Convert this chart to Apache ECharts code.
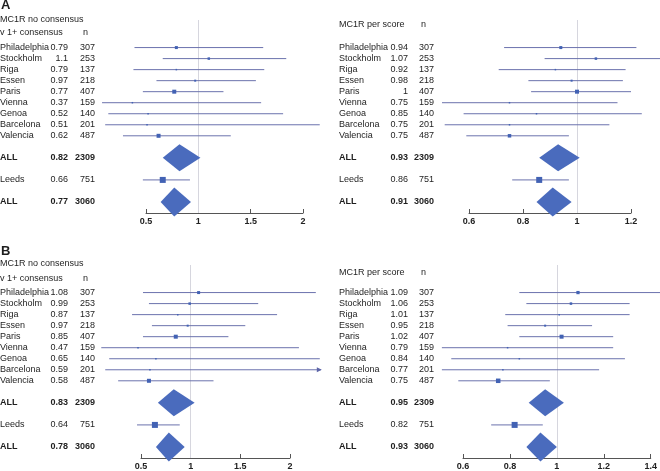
<!DOCTYPE html>
<html>
<head>
<meta charset="utf-8">
<script src="https://cdn.jsdelivr.net/npm/echarts@6/dist/echarts.min.js"></script>
<style>
	html, body { margin: 0; padding: 0; background: #fff; }
	#chart { width: 660px; height: 471px; }
</style>
</head>
<body>
<div id="chart"></div>
<script>
// rows shared by every panel (row index on the y axis, gaps before the pooled rows)
const rowNames = ['Philadelphia', 'Stockholm', 'Riga', 'Essen', 'Paris', 'Vienna', 'Genoa', 'Barcelona', 'Valencia', 'ALL', 'Leeds', 'ALL'];
const rowPos = [0, 1, 2, 3, 4, 5, 6, 7, 8, 10, 12, 14];
const rowN = [307, 253, 137, 218, 407, 159, 140, 201, 487, 2309, 751, 3060];

// A: MC1R no consensus v 1+ consensus
const estA1 = [0.79, 1.1, 0.79, 0.97, 0.77, 0.37, 0.52, 0.51, 0.62, 0.82, 0.66, 0.77];
const loA1 = [0.39, 0.66, 0.38, 0.60, 0.47, 0.08, 0.14, 0.11, 0.28, 0.66, 0.47, 0.64];
const hiA1 = [1.62, 1.84, 1.63, 1.55, 1.24, 1.60, 1.81, 2.16, 1.31, 1.02, 0.92, 0.93];
const wA1 = [12, 10, 6, 8, 16, 6, 6, 6, 16, 0, 24, 0];

// A: MC1R per score
const estA2 = [0.94, 1.07, 0.92, 0.98, 1, 0.75, 0.85, 0.75, 0.75, 0.93, 0.86, 0.91];
const loA2 = [0.73, 0.88, 0.71, 0.82, 0.83, 0.50, 0.58, 0.51, 0.59, 0.86, 0.76, 0.85];
const hiA2 = [1.22, 1.32, 1.18, 1.17, 1.20, 1.15, 1.24, 1.12, 0.97, 1.01, 0.97, 0.98];
const wA2 = [12, 10, 6, 8, 16, 6, 6, 6, 14, 0, 24, 0];

// B: MC1R no consensus v 1+ consensus
const estB1 = [1.08, 0.99, 0.87, 0.97, 0.85, 0.47, 0.65, 0.59, 0.58, 0.83, 0.64, 0.78];
const loB1 = [0.52, 0.58, 0.41, 0.61, 0.52, 0.10, 0.18, 0.14, 0.27, 0.67, 0.46, 0.65];
const hiB1 = [2.26, 1.68, 1.87, 1.55, 1.38, 2.09, 2.30, 2.60, 1.23, 1.04, 0.89, 0.94];
const wB1 = [12, 10, 6, 8, 16, 6, 6, 6, 16, 0, 24, 0];

// B: MC1R per score
const estB2 = [1.09, 1.06, 1.01, 0.95, 1.02, 0.79, 0.84, 0.77, 0.75, 0.95, 0.82, 0.93];
const loB2 = [0.84, 0.87, 0.78, 0.79, 0.84, 0.51, 0.55, 0.51, 0.58, 0.88, 0.72, 0.87];
const hiB2 = [1.45, 1.31, 1.31, 1.15, 1.24, 1.24, 1.29, 1.18, 0.97, 1.03, 0.94, 1.00];
const wB2 = [13, 10, 6, 8, 16, 6, 6, 6, 18, 0, 24, 0];

const FONT = '"Liberation Sans", Arial, Helvetica, sans-serif';
const TEXT_COLOR = '#1e1e1e';

const panels = [
	{ est: estA1, lo: loA1, hi: hiA1, w: wA1, grid: { left: 146, top: 20, width: 157, height: 193 }, min: 0.5, max: 2, interval: 0.5, cols: [0, 68, 95], cut: null },
	{ est: estA2, lo: loA2, hi: hiA2, w: wA2, grid: { left: 469, top: 20, width: 162, height: 193 }, min: 0.6, max: 1.2, interval: 0.2, cols: [339, 408, 434], cut: null },
	{ est: estB1, lo: loB1, hi: hiB1, w: wB1, grid: { left: 141, top: 265, width: 149, height: 194 }, min: 0.5, max: 2, interval: 0.5, cols: [0, 68, 95], cut: 2.31 },
	{ est: estB2, lo: loB2, hi: hiB2, w: wB2, grid: { left: 463, top: 265, width: 189, height: 194 }, min: 0.6, max: 1.4, interval: 0.2, cols: [339, 408, 434], cut: null }
];

function cellText(x, y, text, align, bold) {
	return {
		type: 'text',
		style: {
			x, y, text,
			align, verticalAlign: 'middle',
			fontSize: 9, fontFamily: FONT,
			fontWeight: bold ? 'bold' : 'normal',
			fill: TEXT_COLOR
		}
	};
}

function makeRender(p) {
	return function (params, api) {
		const i = params.dataIndex;
		const row = api.value(0);
		const est = api.value(1);
		const lo = api.value(2);
		const hi = api.value(3);
		const pooled = rowNames[i] === 'ALL';
		const c = api.coord([est, row]);
		const y = c[1];
		const xl = api.coord([lo, row])[0];
		let xh = api.coord([hi, row])[0];
		const kids = [
			cellText(p.cols[0], y, rowNames[i], 'left', pooled),
			cellText(p.cols[1], y, String(est), 'right', pooled),
			cellText(p.cols[2], y, String(rowN[i]), 'right', pooled)
		];

		if (pooled) {
			const h = i === rowNames.length - 1 ? 14.5 : 13.5;
			kids.push({
				type: 'polygon',
				shape: { points: [[xl, y], [c[0], y - h], [xh, y], [c[0], y + h]] },
				style: { fill: '#4a6bbd' }
			});
		} else {
			let arrow = false;
			if (p.cut != null && hi > p.cut) {
				xh = api.coord([p.cut, row])[0];
				arrow = true;
			}
			kids.push({
				type: 'line',
				shape: { x1: xl, y1: y, x2: xh, y2: y },
				style: { stroke: '#6b72ad', lineWidth: 1 }
			});
			if (arrow) {
				kids.push({
					type: 'polygon',
					shape: { points: [[xh + 1, y], [xh - 4, y - 2.5], [xh - 4, y + 2.5]] },
					style: { fill: '#5d65a8' }
				});
			}
			const s = api.value(4) * 0.25;
			kids.push({
				type: 'rect',
				shape: { x: c[0] - s / 2, y: y - s / 2, width: s, height: s },
				style: { fill: '#4262b4' }
			});
		}
		return { type: 'group', children: kids };
	};
}

function header(x, y, text, opts) {
	return {
		type: 'text',
		left: x,
		top: y,
		style: Object.assign({
			text,
			fontSize: 9,
			fontFamily: FONT,
			fill: TEXT_COLOR
		}, opts || {})
	};
}

const chart = echarts.init(document.getElementById('chart'));

const forestSeries = panels.map((p, k) => ({
	type: 'custom',
	xAxisIndex: k,
	yAxisIndex: k,
	z: 3,
	clip: false,
	renderItem: makeRender(p),
	data: rowPos.map((r, i) => [r, p.est[i], p.lo[i], p.hi[i], p.w[i]])
}));

// line of no effect at 1, kept under the marks
const refSeries = panels.map((p, k) => ({
	type: 'line',
	xAxisIndex: k,
	yAxisIndex: k,
	z: 1,
	data: [],
	markLine: {
		z: 1,
		silent: true,
		symbol: 'none',
		label: { show: false },
		lineStyle: { color: '#d6d6de', type: 'solid', width: 1 },
		data: [{ xAxis: 1 }]
	}
}));

const option = {
	animation: false,
	backgroundColor: '#fff',
	grid: panels.map(p => Object.assign({ containLabel: false }, p.grid)),
	xAxis: panels.map((p, k) => ({
		type: 'value',
		gridIndex: k,
		position: 'bottom',
		min: p.min,
		max: p.max,
		interval: p.interval,
		axisLine: { onZero: false, lineStyle: { color: '#555', width: 1 } },
		axisTick: { inside: true, length: 4, lineStyle: { color: '#555' } },
		axisLabel: { fontSize: 9, fontWeight: 'bold', fontFamily: FONT, color: '#222', margin: 4 },
		splitLine: { show: false }
	})),
	yAxis: panels.map((p, k) => ({
		type: 'value',
		gridIndex: k,
		inverse: true,
		min: -2.5,
		max: 15,
		show: false
	})),
	series: refSeries.concat(forestSeries),
	graphic: [
		header(1, -1, 'A', { fontSize: 13, fontWeight: 'bold' }),
		header(0, 15, 'MC1R no consensus'),
		header(0, 28, 'v 1+ consensus'),
		header(83, 28, 'n'),
		header(339, 20, 'MC1R per score'),
		header(421, 20, 'n'),
		header(1, 245, 'B', { fontSize: 13, fontWeight: 'bold' }),
		header(0, 259, 'MC1R no consensus'),
		header(0, 274, 'v 1+ consensus'),
		header(83, 274, 'n'),
		header(339, 268, 'MC1R per score'),
		header(421, 268, 'n')
	]
};

chart.setOption(option);
</script>
</body>
</html>
